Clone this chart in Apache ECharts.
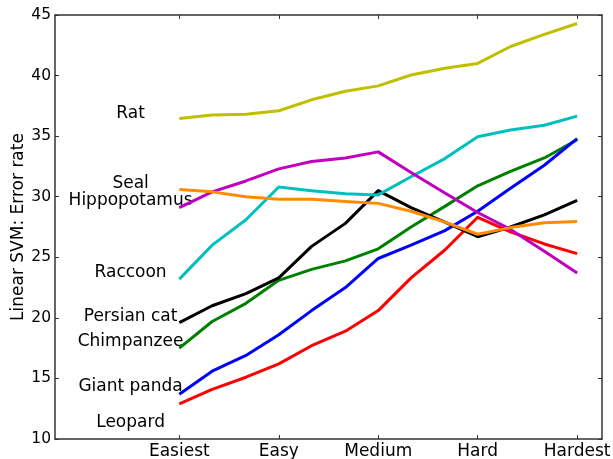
<!DOCTYPE html>
<html>
<head>
<meta charset="utf-8">
<script src="https://cdn.jsdelivr.net/npm/echarts@6/dist/echarts.min.js"></script>
<style>
  html, body { margin: 0; padding: 0; background: #fff; }
  #chart { width: 613px; height: 459px; }
</style>
</head>
<body>
<div id="chart"></div>
<script>
// difficulty levels on the x axis
const categories = ['Easiest', 'Easy', 'Medium', 'Hard', 'Hardest']
// sample positions along the x axis (0 = Easiest ... 4 = Hardest)
const steps = [0, 0.33, 0.67, 1, 1.33, 1.67, 2, 2.33, 2.67, 3, 3.33, 3.67, 4]
const yTicks = [10, 15, 20, 25, 30, 35, 40, 45]

// error rate per class
const leopard = [12.9, 14.1, 15.1, 16.2, 17.7, 18.9, 20.6, 23.3, 25.6, 28.3, 27.1, 26.1, 25.3]
const giantPanda = [13.7, 15.6, 16.9, 18.6, 20.6, 22.5, 24.9, 26.0, 27.2, 28.8, 30.7, 32.6, 34.8]
const chimpanzee = [17.5, 19.7, 21.2, 23.1, 24.0, 24.7, 25.7, 27.5, 29.2, 30.9, 32.1, 33.2, 34.7]
const persianCat = [19.6, 21.0, 22.0, 23.3, 25.9, 27.8, 30.5, 29.1, 27.9, 26.7, 27.5, 28.5, 29.7]
const raccoon = [23.2, 26.0, 28.1, 30.8, 30.5, 30.25, 30.15, 31.65, 33.15, 34.95, 35.5, 35.9, 36.65]
const hippopotamus = [29.1, 30.4, 31.3, 32.3, 32.9, 33.2, 33.7, 32.0, 30.3, 28.7, 27.3, 25.5, 23.7]
const seal = [30.6, 30.4, 30.0, 29.8, 29.8, 29.6, 29.45, 28.8, 27.9, 26.9, 27.45, 27.85, 27.95]
const rat = [36.45, 36.75, 36.8, 37.1, 38.0, 38.7, 39.15, 40.05, 40.6, 41.0, 42.4, 43.4, 44.3]

// class name labels drawn in data space left of the first level
const labelNames = ['Rat', 'Seal', 'Hippopotamus', 'Raccoon', 'Persian cat', 'Chimpanzee', 'Giant panda', 'Leopard']
const labelX = -0.49
const labelY = [36.85, 31.1, 29.65, 23.7, 20.1, 18.05, 14.3, 11.35]

const font = 'DejaVu Sans'

let myChart = echarts.init(document.getElementById('chart'))

// drawing order matches the reference: first listed is at the bottom
const lines = [
  { name: 'Leopard', values: leopard, color: '#ff0000' },
  { name: 'Chimpanzee', values: chimpanzee, color: '#008000' },
  { name: 'Giant panda', values: giantPanda, color: '#0000ff' },
  { name: 'Persian cat', values: persianCat, color: '#000000' },
  { name: 'Raccoon', values: raccoon, color: '#00bfbf' },
  { name: 'Hippopotamus', values: hippopotamus, color: '#bf00bf' },
  { name: 'Seal', values: seal, color: '#ff8c00' },
  { name: 'Rat', values: rat, color: '#bfbf00' }
]

const spine = { show: true, onZero: false, lineStyle: { color: '#333', width: 1.5 } }
const tickIn = { show: true, inside: true, length: 4, lineStyle: { color: '#333', width: 1 } }

let option = {
  animation: false,
  grid: {
    left: 55,
    right: 11,
    top: 15,
    bottom: 20,
    outerBoundsMode: 'none'
  },
  xAxis: [
    {
      type: 'value',
      min: -1.25,
      max: 4.25,
      axisLine: spine,
      axisTick: Object.assign({ customValues: [0, 1, 2, 3, 4] }, tickIn),
      axisLabel: {
        customValues: [0, 1, 2, 3, 4],
        formatter: (val) => categories[Math.round(val)] ?? '',
        color: '#000',
        fontFamily: font,
        fontSize: 17,
        margin: 4
      },
      splitLine: { show: false }
    },
    {
      type: 'value',
      position: 'top',
      min: -1.25,
      max: 4.25,
      axisLine: spine,
      axisTick: Object.assign({ customValues: [0, 1, 2, 3, 4] }, tickIn),
      axisLabel: { show: false },
      splitLine: { show: false }
    }
  ],
  yAxis: [
    {
      type: 'value',
      min: yTicks[0],
      max: yTicks[yTicks.length - 1],
      interval: 5,
      name: 'Linear SVM: Error rate',
      nameLocation: 'middle',
      nameGap: 28,
      nameMoveOverlap: false,
      nameTextStyle: { color: '#000', fontFamily: font, fontSize: 17 },
      axisLine: spine,
      axisTick: tickIn,
      axisLabel: { color: '#000', fontFamily: font, fontSize: 15.5, margin: 4 },
      splitLine: { show: false }
    },
    {
      type: 'value',
      position: 'right',
      min: yTicks[0],
      max: yTicks[yTicks.length - 1],
      interval: 5,
      axisLine: spine,
      axisTick: tickIn,
      axisLabel: { show: false },
      splitLine: { show: false }
    }
  ],
  series: lines.map((item) => {
    return {
      name: item.name,
      type: 'line',
      data: item.values.map((v, i) => [steps[i], v]),
      showSymbol: false,
      smooth: false,
      lineStyle: { color: item.color, width: 3, join: 'round' },
      itemStyle: { color: item.color }
    }
  }).concat([{
    type: 'scatter',
    symbolSize: 0,
    itemStyle: { opacity: 1 },
    data: labelNames.map((n, i) => [labelX, labelY[i], n]),
    label: {
      show: true,
      position: 'inside',
      formatter: (p) => p.data[2],
      color: '#000',
      opacity: 1,
      textBorderWidth: 0,
      fontFamily: font,
      fontSize: 17
    }
  }])
}

myChart.setOption(option)
</script>
</body>
</html>
